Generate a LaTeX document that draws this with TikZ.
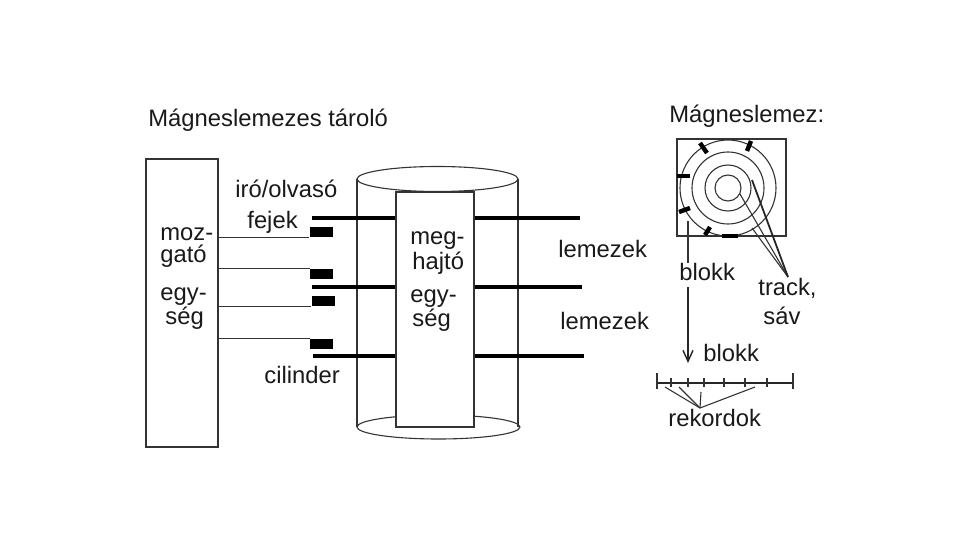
\documentclass[tikz,border=0pt]{standalone}
\usepackage{fontspec}
\setmainfont{Liberation Sans}
\usetikzlibrary{positioning,arrows.meta}
\tikzset{
  lbl/.style={anchor=base west,inner sep=0pt,font=\fontsize{11.9}{14}\selectfont,text=black!90},
  thin line/.style={line width=0.55pt,black!80},
  disc line/.style={line width=2pt,black},
  head/.style={fill=black,inner sep=0pt,minimum width=11.5pt,minimum height=5pt},
  tick mark/.style={line width=2.2pt,black},
}
\begin{document}
\begin{tikzpicture}[x=0.5pt,y=-0.5pt,>={Straight Barb[length=5.5pt,width=5pt]}]
\useasboundingbox (0,0) rectangle (960,540);
% titles
\node[lbl] (title) at (148,127) {Mágneslemezes tároló};
\node[lbl] (titleb) at (669,123) {Mágneslemez:};
% cylinder
\draw[thin line,fill=white] (437.5,179) ellipse [x radius=80.5,y radius=12.5];
\draw[thin line,fill=white] (438.5,427) ellipse [x radius=81.5,y radius=12];
\draw[thin line] (357,179) -- (357,427);
\draw[thin line] (518,179) -- (518,427);
% disc lines
\draw[disc line] (312,218) -- (580,218);
\draw[disc line] (312,287) -- (582,287);
\draw[disc line] (313,356) -- (584,356);
% boxes
\node[draw,thin line,fill=white,inner sep=0pt,minimum width=36pt,minimum height=144pt] (mover) at (182,303) {};
\node[draw,thin line,fill=white,inner sep=0pt,minimum width=39pt,minimum height=117.5pt] (drive) at (435,309.5) {};
% heads
\node[head] (heada) at (321,232) {};
\node[head] (headb) at (321.5,274) {};
\node[head] (headc) at (323,301.5) {};
\node[head] (headd) at (321.5,344) {};
\draw[thin line] (mover.east |- heada.south) -- (heada.south west);
\draw[thin line] (mover.east |- headb.north) -- (headb.north west);
\draw[thin line] (mover.east |- headc.south) -- (headc.south west);
\draw[thin line] (mover.east |- headd.north) -- (headd.north west);
% labels left
\node[lbl] (rw) at (235,198) {iró/olvasó};
\node[lbl] (fejek) at (247,228) {fejek};
\node[lbl] (cil) at (264,384) {cilinder};
\node[lbl] (moz) at (160,241) {moz-};
\node[lbl] (gato) at (160,263) {gató};
\node[lbl] (egya) at (160,300) {egy-};
\node[lbl] (sega) at (165,325) {ség};
\node[lbl] (meg) at (410,245) {meg-};
\node[lbl] (hajto) at (412,270) {hajtó};
\node[lbl] (egyb) at (410,303) {egy-};
\node[lbl] (segb) at (412,327) {ség};
\node[lbl] (lema) at (558,257) {lemezek};
\node[lbl] (lemb) at (560,329) {lemezek};
% disc top view
\draw[thin line] (677,139) rectangle (786,236);
\foreach \r in {13,23,36,48}
  \draw[thin line] (728,188) circle [radius=\r];
\draw[tick mark] (700,143) -- (707,153);
\draw[tick mark] (751,141) -- (747,151);
\draw[tick mark] (677,176) -- (690,176);
\draw[tick mark] (679,212) -- (690,208);
\draw[tick mark] (710,227) -- (705,235);
\draw[tick mark] (722,236) -- (738,236);
\coordinate (trk) at (788,277);
\draw[thin line] (740,194) -- (trk);
\draw[thin line] (752,228) -- (trk);
\draw[line width=0.9pt,black!85] (752,180) -- (trk);
\node[lbl] (blokka) at (679,281) {blokk};
\node[lbl] (track) at (758,296) {track,};
\node[lbl] (sav) at (763,324) {sáv};
\draw[thin line] (688,221) -- (blokka.north -| 688,0);
\draw[->,line width=0.7pt,black!85] (688,287) -- (688,363);
\node[lbl] (blokkb) at (703,362) {blokk};
% record line
\draw[line width=0.8pt,black!85] (657,383) -- (793,383);
\foreach \x in {657,793}
  \draw[thin line] (\x,373) -- (\x,389);
\foreach \x in {671,688,704,724,745,767}
  \draw[thin line] (\x,378) -- (\x,387);
\coordinate (rek) at (700,408);
\foreach \x/\y in {665/387,679/387,701/392,755/387}
  \draw[thin line] (rek) -- (\x,\y);
\node[lbl] (rekord) at (668,426) {rekordok};
\end{tikzpicture}
\end{document}
